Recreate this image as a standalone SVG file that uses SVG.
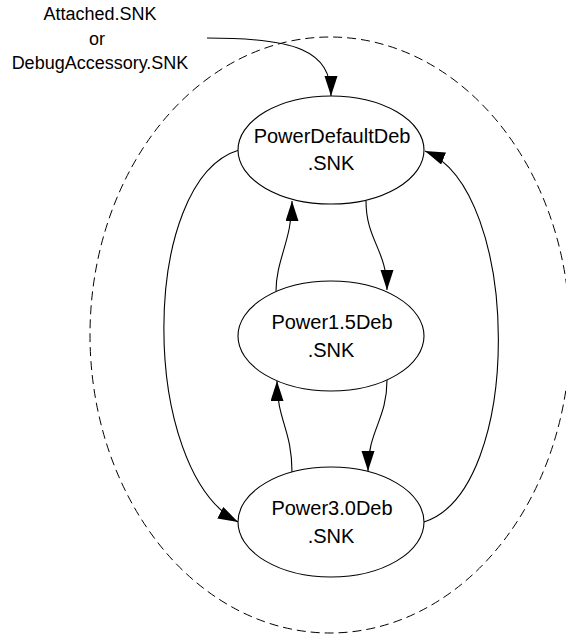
<svg xmlns="http://www.w3.org/2000/svg" width="566" height="637" viewBox="0 0 566 637">
<style>
.node ellipse{fill:#fff;stroke:#000;stroke-width:1.1}
.lbl{font-family:"Liberation Sans",Arial,sans-serif;font-size:20px;fill:#000;text-anchor:middle}
.top{font-family:"Liberation Sans",Arial,sans-serif;font-size:18px;fill:#000;text-anchor:middle}
.conn path{fill:none;stroke:#000;stroke-width:1.1}
.boundary{fill:none;stroke:#000;stroke-width:1;stroke-dasharray:9 5}
</style>
<defs>
<marker id="arr" markerUnits="userSpaceOnUse" markerWidth="22" markerHeight="14" refX="20" refY="6.5" orient="auto">
<path d="M0,0 L20,6.5 L0,13 z" fill="#000"/>
</marker>
</defs>
<rect width="566" height="637" fill="#fff"/>
<ellipse class="boundary" cx="330" cy="335" rx="240" ry="298"/>
<g id="entry-label">
<text class="top" x="100" y="20">Attached.SNK</text>
<text class="top" x="97" y="45">or</text>
<text class="top" x="100" y="69">DebugAccessory.SNK</text>
</g>
<g id="connectors" class="conn">
<path d="M207,38 C295,38 331,50 331,96" marker-end="url(#arr)"/>
<path d="M366,201 C366,240 387,250 387,290" marker-end="url(#arr)"/>
<path d="M276,291 C276,260 292,240 292,201" marker-end="url(#arr)"/>
<path d="M387,380 C387,420 368,430 368,471" marker-end="url(#arr)"/>
<path d="M292,472 C292,430 277,420 277,381" marker-end="url(#arr)"/>
<path d="M239,150 C139,180 139,470 238,522" marker-end="url(#arr)"/>
<path d="M424,522 C524,490 522,190 425,151" marker-end="url(#arr)"/>
</g>
<g id="PowerDefaultDeb" class="node">
<ellipse cx="331" cy="150" rx="93" ry="54"/>
<text class="lbl" x="332" y="143">PowerDefaultDeb</text>
<text class="lbl" x="331" y="170">.SNK</text>
</g>
<g id="Power1.5Deb" class="node">
<ellipse cx="331" cy="336" rx="93" ry="55"/>
<text class="lbl" x="332" y="329">Power1.5Deb</text>
<text class="lbl" x="331" y="357">.SNK</text>
</g>
<g id="Power3.0Deb" class="node">
<ellipse cx="331" cy="522" rx="93" ry="55"/>
<text class="lbl" x="332" y="515">Power3.0Deb</text>
<text class="lbl" x="331" y="543">.SNK</text>
</g>
</svg>
